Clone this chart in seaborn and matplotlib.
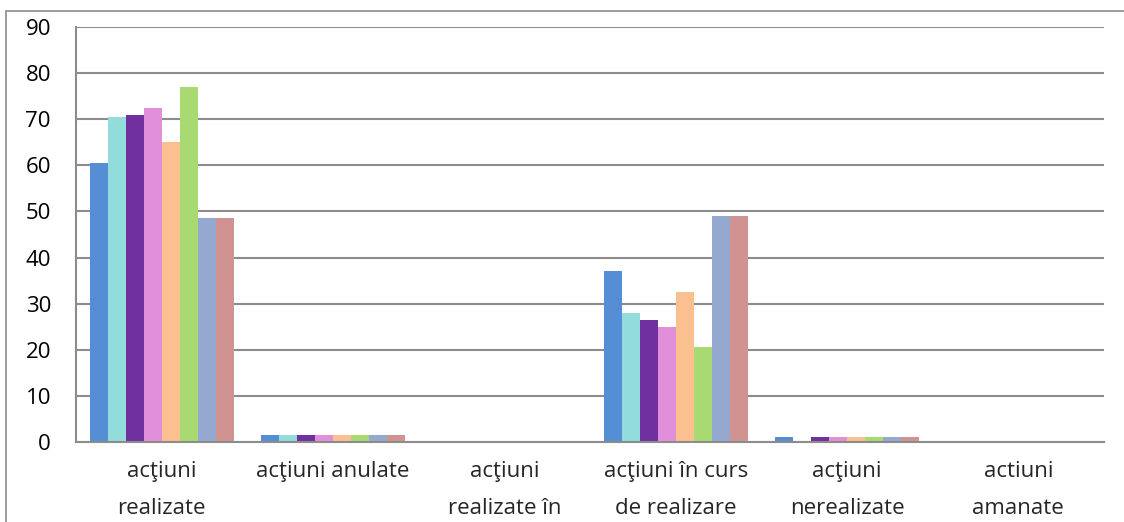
import pandas as pd
import numpy as np
import matplotlib.pyplot as plt
import seaborn as sns
from matplotlib.patches import Rectangle

categories = ['acţiuni\nrealizate', 'acţiuni anulate', 'acţiuni\nrealizate în',
              'acţiuni în curs\nde realizare', 'acţiuni\nnerealizate', 'actiuni\namanate']
series = ['s1', 's2', 's3', 's4', 's5', 's6', 's7', 's8']
s1 = [60.4, 1.5, 0, 37.0, 1.0, 0]
s2 = [70.4, 1.5, 0, 28.0, 0, 0]
s3 = [70.9, 1.5, 0, 26.4, 1.0, 0]
s4 = [72.5, 1.5, 0, 25.0, 1.0, 0]
s5 = [65.0, 1.5, 0, 32.5, 1.0, 0]
s6 = [76.9, 1.5, 0, 20.5, 1.0, 0]
s7 = [48.5, 1.5, 0, 49.0, 1.0, 0]
s8 = [48.5, 1.5, 0, 49.0, 1.0, 0]
colors = ['#558ED5', '#93DCDC', '#7030A0', '#E18FDB', '#FAC090', '#A9D971', '#95A9D0', '#D19392']

rows = []
for name, vals in zip(series, [s1, s2, s3, s4, s5, s6, s7, s8]):
    for c, v in zip(categories, vals):
        rows.append({'cat': c, 'serie': name, 'val': v})
df = pd.DataFrame(rows)

sns.set_style('white')
plt.rcParams['font.family'] = ['Open Sans', 'DejaVu Sans']

fig = plt.figure(figsize=(11.24, 5.22), dpi=100)
ax = fig.add_axes([76/1124, 1-442/522, (1104-76)/1124, (442-27)/522])

sns.barplot(data=df, x='cat', y='val', hue='serie', palette=colors, order=categories,
            hue_order=series, width=0.84, gap=0, saturation=1, ax=ax, legend=False,
            linewidth=0)

grid = '#8C8C8C'
ax.set_ylim(0, 90)
ax.set_xlim(-0.5, 5.5)
ax.set_yticks(np.arange(0, 91, 10))
ax.yaxis.grid(True, color=grid, linewidth=1.5)
ax.set_axisbelow(True)
for s in ['top']:
    ax.spines[s].set_visible(False)
ax.spines['right'].set_visible(False)
for s in ['left', 'bottom']:
    ax.spines[s].set_color(grid)
    ax.spines[s].set_linewidth(1.5)
ax.set_xlabel('')
ax.set_ylabel('')
ax.tick_params(axis='y', length=6, width=1.5, color=grid, labelsize=16, pad=12, labelcolor='black')
ax.set_xticks(np.arange(-0.5, 6, 1), minor=True)
ax.tick_params(axis='x', which='minor', length=6, width=1.5, color=grid)
ax.tick_params(axis='x', which='major', length=0, labelsize=16, pad=14)
for lbl in ax.get_xticklabels():
    lbl.set_linespacing(2.0)
    lbl.set_verticalalignment('top')

fig.patches.append(Rectangle((6/1124, -0.1), 1.1, 1.1 - 11/522, transform=fig.transFigure,
                             fill=False, edgecolor=grid, linewidth=1.2))

fig.savefig('out.png', dpi=100)
